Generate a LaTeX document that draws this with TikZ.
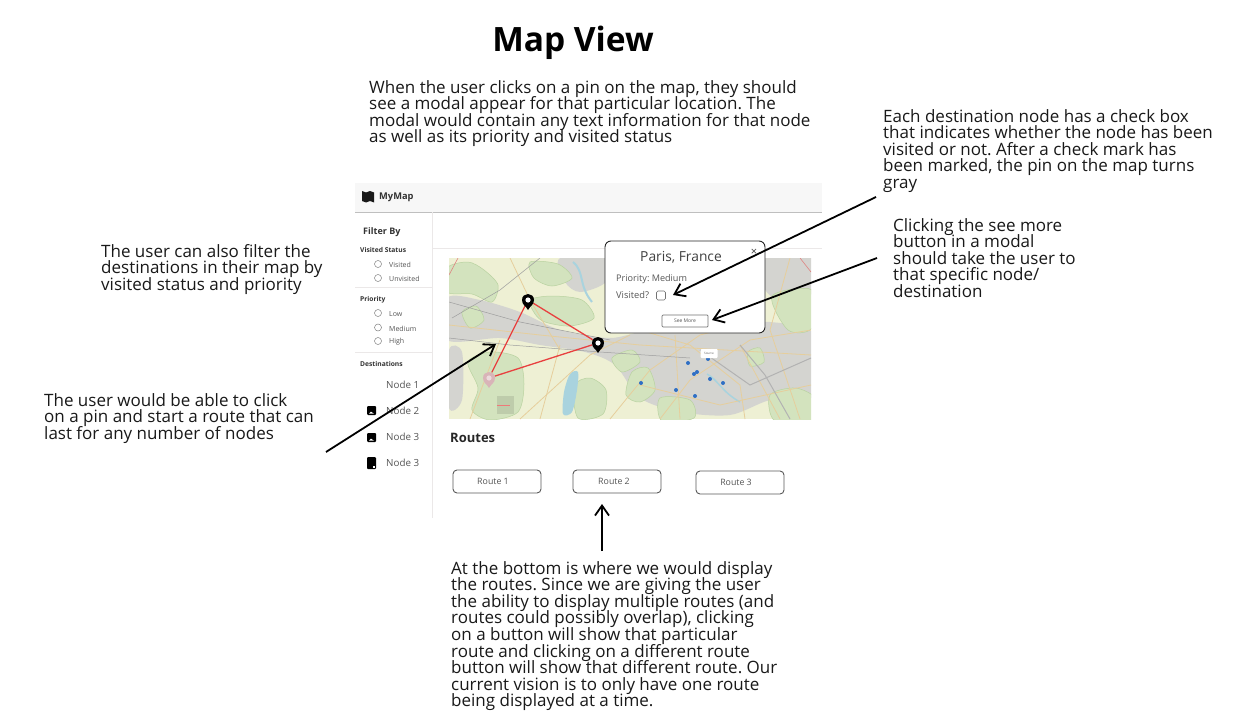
\documentclass[tikz,border=0pt]{standalone}
\usepackage{fontspec}
\setmainfont{Open Sans}
\usepackage{tikz}
\usetikzlibrary{positioning,arrows.meta}
\definecolor{mapgreen}{HTML}{D3E3BE}
\definecolor{mapgrey}{HTML}{D4D4D0}
\definecolor{mapcream}{HTML}{EEF0D4}
\definecolor{maproad}{HTML}{E6CE9C}
\definecolor{mapwater}{HTML}{A9D3DE}
\definecolor{inkgrey}{HTML}{555555}
\definecolor{sidegrey}{HTML}{EBE8E8}
\definecolor{routered}{HTML}{E8403F}
\definecolor{pinblue}{HTML}{2F6FC4}
\definecolor{pinpink}{HTML}{D9B4B8}
\definecolor{patchedge}{HTML}{B9D2A0}
\frenchspacing
\newcommand{\notefont}{\fontsize{17}{16.6}\selectfont\setlength{\lineskiplimit}{-20pt}}
\begin{document}
\begin{tikzpicture}[x=1pt,y=-1pt,
    note/.style={anchor=north west, inner sep=0pt, align=left, font=\notefont, text=black!90},
    callout/.style={-{Straight Barb[length=10pt,width=14pt]}, line width=1.8pt},
    sidehead/.style={anchor=west, inner sep=0pt, font=\fontsize{6.7}{8}\selectfont\bfseries, text=black!80},
    sideitem/.style={anchor=west, inner sep=0pt, font=\fontsize{7}{8}\selectfont, text=inkgrey},
    radio/.style={circle, draw=black!50, fill=white, line width=0.5pt, minimum size=7pt, inner sep=0pt},
    destnode/.style={anchor=west, inner sep=0pt, font=\fontsize{9.8}{11}\selectfont, text=inkgrey},
    thumb/.style={fill=black, rounded corners=1pt, minimum width=9pt, minimum height=9pt, inner sep=0pt},
    routebtn/.style={draw=black!65, fill=white, line width=0.9pt, rounded corners=4pt, minimum width=88pt, minimum height=23pt, inner sep=0pt, font=\fontsize{8.8}{10}\selectfont, text=inkgrey},
    mappin/.style={circle, minimum size=12pt, inner sep=0pt},
    bluepin/.style={circle, fill=pinblue, minimum size=4pt, inner sep=0pt},
    greenpatch/.style={fill=mapgreen, draw=patchedge, line width=0.5pt},
    greypatch/.style={fill=mapgrey},
    road/.style={draw=maproad, line width=0.8pt},
    rail/.style={draw=black!38, line width=0.5pt},
    routeline/.style={draw=routered, line width=1.3pt}]
    \useasboundingbox (0,0) rectangle (1242,725);
    \fill[white] (0,0) rectangle (1242,725);

    %Notes
    \node[anchor=center, inner sep=0pt, font=\fontsize{33.5}{36}\selectfont\bfseries] (title) at (573,43) {Map View};
    \node[note] (modalnote) at (369,80) {When the user clicks on a pin on the map, they should\\see a modal appear for that particular location. The\\modal would contain any text information for that node\\as well as its priority and visited status};
    \node[note] (checknote) at (883,109) {Each destination node has a check box\\that indicates whether the node has been\\visited or not. After a check mark has\\been marked, the pin on the map turns\\gray};
    \node[note] (morenote) at (893,218) {Clicking the see more\\button in a modal\\should take the user to\\that specific node/\\destination};
    \node[note] (filternote) at (101,244) {The user can also filter the\\destinations in their map by\\visited status and priority};
    \node[note] (pinnote) at (44,393) {The user would be able to click\\on a pin and start a route that can\\last for any number of nodes};
    \node[note] (routenote) at (451,561) {At the bottom is where we would display\\the routes. Since we are giving the user\\the ability to display multiple routes (and\\routes could possibly overlap), clicking\\on a button will show that particular\\route and clicking on a different route\\button will show that different route. Our\\current vision is to only have one route\\being displayed at a time.};

    %Header and sidebar
    \fill[black!3] (355,183) rectangle (822,212);
    \draw[black!25, line width=0.9pt] (355,212) -- (822,212);
    \draw[sidegrey, line width=0.7pt] (432,212) -- (432,518);
    \draw[sidegrey, line width=0.7pt] (432,248) -- (822,248);
    \draw[sidegrey, line width=0.7pt] (355,287) -- (432,287);
    \draw[sidegrey, line width=0.7pt] (355,352) -- (432,352);
    \fill[black!90] (362,191) -- (366,192.5) -- (370,191) -- (374,192.5) -- (374,202.5) -- (370,201) -- (366,202.5) -- (362,201) -- cycle;
    \node[anchor=west, inner sep=0pt, font=\fontsize{9.3}{10}\selectfont\bfseries, text=black!80] (brand) at (379,197) {MyMap};
    \node[anchor=west, inner sep=0pt, font=\fontsize{9}{10}\selectfont\bfseries, text=black!80] (filterby) at (363,232) {Filter By};
    \node[sidehead] (visitedhead) at (360,249.5) {Visited Status};
    \node[radio] (r1) at (378,264) {};
    \node[radio] (r2) at (378,278) {};
    \node[sideitem] (visited) at (389,264.5) {Visited};
    \node[sideitem] (unvisited) at (389,278.5) {Unvisited};
    \node[sidehead] (priorityhead) at (360,299.5) {Priority};
    \node[radio] (r3) at (378,313) {};
    \node[radio] (r4) at (378,327.5) {};
    \node[radio] (r5) at (378,341) {};
    \node[sideitem] (low) at (389,314) {Low};
    \node[sideitem] (medium) at (389,328.5) {Medium};
    \node[sideitem] (high) at (389,341.5) {High};
    \node[sidehead] (desthead) at (360,363.5) {Destinations};
    \node[destnode] (dest1) at (386,384.5) {Node 1};
    \node[destnode] (dest2) at (386,410.5) {Node 2};
    \node[destnode] (dest3) at (386,436.5) {Node 3};
    \node[destnode] (dest4) at (386,462.5) {Node 3};
    \node[thumb] (thumb2) at (371.5,410.5) {};
    \node[thumb] (thumb3) at (371.5,437.5) {};
    \node[thumb, minimum height=12pt] (thumb4) at (371.5,463) {};
    \foreach \t in {thumb2,thumb3}{
        \fill[white] ([xshift=-2.5pt,yshift=1.5pt]\t.south) -- ([xshift=-0.5pt,yshift=3.5pt]\t.south) -- ([xshift=2.5pt,yshift=1.5pt]\t.south) -- cycle;
    }
    \fill[white] ([xshift=1pt,yshift=1.5pt]thumb4.south) rectangle ([xshift=3pt,yshift=3pt]thumb4.south);

    %Map
    \begin{scope}
    \clip (449,258) rectangle (811,419);
    \fill[mapcream] (449,258) rectangle (811,419);
    % built-up areas
    \path[greypatch] plot[smooth cycle] coordinates {(447,298) (480,300) (520,312) (560,330) (610,338) (650,330) (720,326) (770,322) (815,335) (815,395) (770,400) (730,415) (680,412) (640,398) (615,365) (585,352) (540,345) (500,338) (447,340)};
    \path[greypatch] plot[smooth cycle] coordinates {(560,258) (612,256) (606,282) (580,292) (565,282)};
    \path[greypatch] plot[smooth cycle] coordinates {(755,256) (815,256) (815,292) (775,298) (760,280)};
    \path[greypatch] plot[smooth cycle] coordinates {(449,350) (462,352) (462,400) (449,408)};
    % parks and forest
    \path[greenpatch] plot[smooth cycle] coordinates {(447,268) (468,262) (484,270) (498,285) (492,302) (472,294) (447,292)};
    \path[greenpatch] plot[smooth cycle] coordinates {(468,362) (490,352) (518,358) (524,384) (518,412) (490,420) (472,410) (478,388)};
    \path[greenpatch] plot[smooth cycle] coordinates {(574,386) (590,378) (606,390) (603,414) (578,418)};
    \path[greenpatch] plot[smooth cycle] coordinates {(530,300) (552,296) (582,300) (594,318) (570,326) (545,322) (535,314)};
    \path[greenpatch] plot[smooth cycle] coordinates {(530,262) (558,264) (572,278) (552,286) (534,278)};
    \path[greenpatch] plot[smooth cycle] coordinates {(772,296) (812,290) (812,328) (788,330)};
    \path[greenpatch] plot[smooth cycle] coordinates {(632,372) (648,368) (655,390) (640,402) (626,395)};
    \path[greenpatch] plot[smooth cycle] coordinates {(770,395) (795,388) (815,398) (815,421) (775,421)};
    \path[greenpatch] plot[smooth cycle] coordinates {(462,312) (476,306) (484,320) (470,328)};
    \path[greenpatch] plot[smooth cycle] coordinates {(612,358) (632,350) (640,362) (622,372)};
    \path[greenpatch] plot[smooth cycle] coordinates {(660,398) (690,400) (694,418) (662,421)};
    \path[greenpatch] plot[smooth cycle] coordinates {(748,352) (760,348) (764,362) (750,366)};
    \fill[black!10!mapgreen] (497,396) rectangle (514,414);
    \draw[routered!70, line width=0.5pt] (497,405) -- (510,405);
    % water
    \path[fill=mapwater] plot[smooth cycle] coordinates {(570,374) (578,372) (577,390) (572,412) (563,414) (564,392)};
    \draw[mapwater, line width=2pt] (573,262) .. controls (585,272) and (578,285) .. (592,302);
    \draw[mapwater, line width=1.5pt] (707,374) .. controls (718,380) and (722,392) .. (740,402);
    % roads and rails
    \draw[road] (449,325) -- (540,335) -- (640,345) -- (811,355);
    \draw[road] (640,330) -- (690,345) -- (740,385) -- (745,419);
    \draw[road] (610,419) -- (650,370) -- (700,335) -- (760,320);
    \draw[road] (520,419) -- (590,355) -- (630,335);
    \draw[road] (660,419) -- (690,380) -- (750,340) -- (811,330);
    \draw[road] (640,385) -- (720,405) -- (811,385);
    \draw[road] (675,335) -- (680,419);
    \draw[road] (740,345) -- (780,419);
    \draw[road] (500,340) -- (470,419);
    \draw[road] (560,345) -- (540,419);
    \draw[road] (510,258) -- (530,300) -- (560,350);
    \draw[road] (790,258) -- (770,330) -- (800,419);
    \draw[rail] (449,338) -- (510,345) -- (600,352) -- (690,358);
    \draw[rail] (452,318) -- (500,290) -- (540,258);
    \draw[rail] (449,302) -- (520,322) -- (610,340);
    \draw[black!30, line width=1pt] (740,345) -- (765,375) -- (790,419);
    \draw[black!30, line width=1pt] (700,350) -- (750,385) -- (811,358);
    \draw[routered!55!mapgrey, line width=0.6pt] (449,275) -- (458,258);
    \draw[routered!55!mapgrey, line width=0.6pt] (800,258) -- (811,272);
    \end{scope}

    %Route
    \node[mappin] (pin1) at (528,300) {};
    \node[mappin] (pin2) at (598,343) {};
    \node[mappin] (pin3) at (489,378) {};
    \draw[routeline] (pin1) -- (pin2);
    \draw[routeline] (pin1) -- (pin3);
    \draw[routeline] (pin2) -- (pin3);
    \foreach \p/\c/\h in {pin1/black/white,pin2/black/white,pin3/pinpink/pinpink!50!white}{
        \fill[\c] ([xshift=-6pt]\p.center) .. controls +(0,-8) and +(0,-8) .. ([xshift=6pt]\p.center) .. controls +(0,5) and +(2,-4) .. ([yshift=-10pt]\p.center) .. controls +(-2,-4) and +(0,5) .. ([xshift=-6pt]\p.center) -- cycle;
        \fill[\h] (\p.center) circle[radius=2.6];
    }
    \foreach \x/\y [count=\i] in {688/363,697/372,694/374,708/359,710/379,723/383,641/383,676/390,695/396}{
        \node[bluepin] (blue\i) at (\x,\y) {};
    }
    \node[fill=white, rounded corners=1pt, minimum width=17pt, minimum height=9pt, inner sep=0pt, font=\fontsize{3}{4}\selectfont, text=inkgrey] (tooltip) at (709,353.5) {Source};

    %Modal
    \node[draw=black!85, fill=white, line width=0.9pt, rounded corners=6pt, minimum width=160pt, minimum height=92pt, inner sep=0pt] (modal) at (685,287) {};
    \node[inner sep=0pt, font=\fontsize{13.8}{15}\selectfont, text=black!75] (place) at (681,257) {Paris, France};
    \node[inner sep=0pt, font=\fontsize{11}{12}\selectfont, text=black!75] (closex) at (754,252) {×};
    \node[anchor=west, inner sep=0pt, font=\fontsize{9.1}{10}\selectfont, text=inkgrey] (modalprio) at (616,279) {Priority: Medium};
    \node[anchor=west, inner sep=0pt, font=\fontsize{9.3}{10}\selectfont, text=inkgrey] (modalvisited) at (616,295) {Visited?};
    \node[draw=black!55, fill=white, line width=0.6pt, rounded corners=1.5pt, minimum size=9pt, inner sep=0pt] (checkbox) at (661,295.5) {};
    \node[draw=black!55, fill=white, line width=0.7pt, rounded corners=1pt, minimum width=46pt, minimum height=12pt, inner sep=0pt, font=\fontsize{5}{6}\selectfont, text=inkgrey] (seemore) at (685,321) {See More};

    %Routes
    \node[anchor=west, inner sep=0pt, font=\fontsize{13}{15}\selectfont\bfseries, text=black!85] (routes) at (450,438) {Routes};
    \node[routebtn] (route1) at (497,481.5) {\hspace*{-8pt}Route 1};
    \node[routebtn] (route2) at (617,481.5) {\hspace*{-6pt}Route 2};
    \node[routebtn] (route3) at (740,482.5) {\hspace*{-8pt}Route 3};

    %Arrows
    \coordinate (checkend) at (876,197);
    \coordinate (checktip) at (673,295);
    \coordinate (moreend) at (877,258);
    \coordinate (moretip) at (712,320);
    \coordinate (pinend) at (326,452);
    \coordinate (pintip) at (496,344);
    \coordinate (routeend) at (602,551);
    \coordinate (routetip) at (602,504);
    \draw[callout] (checkend) -- (checktip);
    \draw[callout] (moreend) -- (moretip);
    \draw[callout] (pinend) -- (pintip);
    \draw[callout] (routeend) -- (routetip);
\end{tikzpicture}
\end{document}
